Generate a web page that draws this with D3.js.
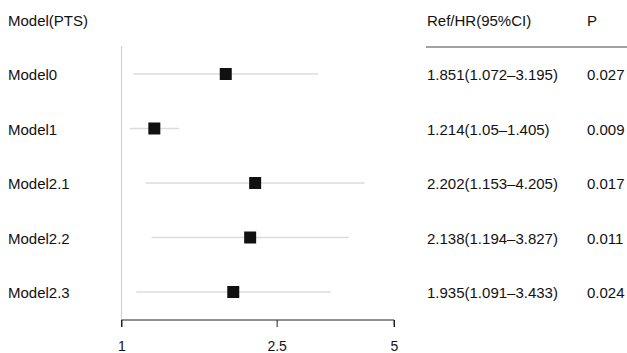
<!DOCTYPE html>
<html>
<head>
<meta charset="utf-8">
<script src="https://cdn.jsdelivr.net/npm/d3@7"></script>
<style>
  body { margin: 0; background: #fff; }
  text { font-family: "Liberation Sans", Arial, Helvetica, sans-serif; fill: #111; }
</style>
</head>
<body>
<svg id="js-svg" width="627" height="353"></svg>
<script>
const models = ["Model0", "Model1", "Model2.1", "Model2.2", "Model2.3"];
const hr = [1.851, 1.214, 2.202, 2.138, 1.935];
const lower = [1.072, 1.05, 1.153, 1.194, 1.091];
const upper = [3.195, 1.405, 4.205, 3.827, 3.433];
const hrLabels = ["1.851(1.072\u20133.195)", "1.214(1.05\u20131.405)", "2.202(1.153\u20134.205)",
  "2.138(1.194\u20133.827)", "1.935(1.091\u20133.433)"];
const pValues = ["0.027", "0.009", "0.017", "0.011", "0.024"];
const xTicks = [1, 2.5, 5];

const svg = d3.select("#js-svg");
const fontSize = 15;

const x = d3.scaleLog().domain([1, 5]).range([121.5, 394]);
const y = d3.scalePoint().domain(models).range([74, 292]);

// headers
svg.append("text").attr("x", 8).attr("y", 26).style("font-size", fontSize + "px").text("Model(PTS)");
svg.append("text").attr("x", 427).attr("y", 26).style("font-size", fontSize + "px").text("Ref/HR(95%CI)");
svg.append("text").attr("x", 587).attr("y", 26).style("font-size", fontSize + "px").text("P");
svg.append("line")
  .attr("x1", 426).attr("x2", 627).attr("y1", 47).attr("y2", 47)
  .style("stroke", "#444").style("stroke-width", 1.2);

// reference line at 1
svg.append("line")
  .attr("x1", x(1)).attr("x2", x(1)).attr("y1", 46).attr("y2", 320)
  .style("stroke", "#d4d4d4").style("stroke-width", 1.3);

const rows = svg.append("g").selectAll("g").data(models).join("g");

rows.append("text")
  .attr("x", 8).attr("y", d => y(d) + 6)
  .style("font-size", fontSize + "px").text(d => d);

rows.append("line")
  .attr("x1", (d, i) => x(lower[i])).attr("x2", (d, i) => x(upper[i]))
  .attr("y1", d => y(d)).attr("y2", d => y(d))
  .style("stroke", "#dcdcdc").style("stroke-width", 1.3);

rows.append("rect")
  .attr("x", (d, i) => x(hr[i]) - 6).attr("y", d => y(d) - 6)
  .attr("width", 12).attr("height", 12)
  .style("fill", "#111");

rows.append("text")
  .attr("x", 427).attr("y", d => y(d) + 6)
  .style("font-size", fontSize + "px").text((d, i) => hrLabels[i]);

rows.append("text")
  .attr("x", 587).attr("y", d => y(d) + 6)
  .style("font-size", fontSize + "px").text((d, i) => pValues[i]);

// x axis
const axis = svg.append("g")
  .attr("transform", "translate(0,320)")
  .call(d3.axisBottom(x).tickValues(xTicks).tickFormat(d3.format("")).tickSize(7).tickPadding(14));
axis.select(".domain").style("stroke", "#222").attr("d", `M${x(1)},7V0H${x(5)}V7`);
axis.selectAll(".tick line").style("stroke", "#222");
axis.selectAll(".tick text").style("font-size", "14px")
  .style("font-family", "'Liberation Sans', Arial, sans-serif").style("fill", "#111");
</script>
</body>
</html>
